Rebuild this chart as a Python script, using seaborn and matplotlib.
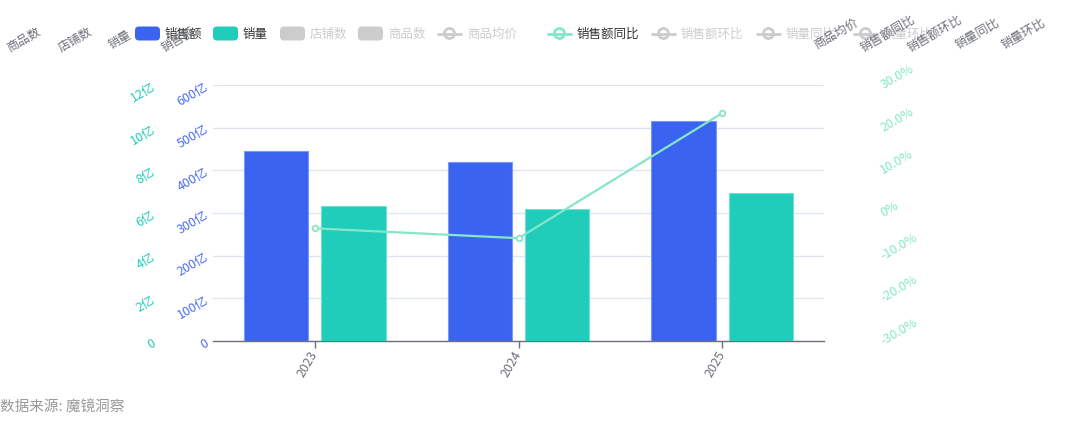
import pandas as pd
import matplotlib
matplotlib.use('Agg')
import matplotlib.pyplot as plt
from matplotlib.patches import FancyBboxPatch, Circle
import seaborn as sns

# data
years = ['2023', '2024', '2025']
sales = [444.6, 418.6, 516.3]      # 销售额 (亿)
volume = [6.35, 6.18, 6.92]        # 销量 (亿)
sales_yoy = [-3.6, -5.9, 23.4]     # 销售额同比 (%)

sales_ticks = [0, 100, 200, 300, 400, 500, 600]
volume_ticks = [0, 2, 4, 6, 8, 10, 12]
yoy_ticks = [-30, -20, -10, 0, 10, 20, 30]

legend_names = ['销售额', '销量', '店铺数', '商品数', '商品均价',
                '销售额同比', '销售额环比', '销量同比', '销量环比']
legend_kinds = ['bar', 'bar', 'bar', 'bar', 'line', 'line', 'line', 'line', 'line']
legend_on = [True, True, False, False, False, True, False, False, False]
left_axis_names = ['商品数', '店铺数', '销量', '销售额']
right_axis_names = ['商品均价', '销售额同比', '销售额环比', '销量同比', '销量环比']
source_text = '数据来源: 魔镜洞察'

BLUE = '#3A64F0'
TEAL = '#20CDBA'
LINE = '#85E6C9'
GREY = '#6E7079'
OFF = '#CCCCCC'

sns.set_theme(style='white')
plt.rcParams['font.family'] = ['Noto Sans CJK SC', 'DejaVu Sans']
plt.rcParams['axes.unicode_minus'] = False

W, H = 1080, 427
fig = plt.figure(figsize=(W / 100, H / 100), dpi=100)

# plot area in pixels: x 213..824, y 86..342
ax = fig.add_axes([213 / W, 1 - 342 / H, 611 / W, 256 / H])
ax2 = ax.twinx()
ax3 = ax.twinx()

hue_order = ['销售额', '销量']
df_sales = pd.DataFrame({'year': years, 'value': sales, 'series': '销售额'})
df_vol = pd.DataFrame({'year': years, 'value': volume, 'series': '销量'})

sns.barplot(data=df_sales, x='year', y='value', hue='series', hue_order=hue_order,
            palette=[BLUE, TEAL], width=0.76, gap=0.17, dodge=True, saturation=1,
            edgecolor='#7D97F5', linewidth=0.8, legend=False, ax=ax)
sns.barplot(data=df_vol, x='year', y='value', hue='series', hue_order=hue_order,
            palette=[BLUE, TEAL], width=0.76, gap=0.17, dodge=True, saturation=1,
            edgecolor='#6FE0D2', linewidth=0.8, legend=False, ax=ax2)
sns.pointplot(x=years, y=sales_yoy, ax=ax3, color=LINE, markers='o', linestyles='-',
              errorbar=None, markersize=4, markerfacecolor='white',
              markeredgewidth=1.3, linewidth=1.6)

for a in (ax, ax2, ax3):
    a.set_xlabel('')
    a.set_ylabel('')
    for s in a.spines.values():
        s.set_visible(False)
    a.set_xlim(-0.5, 2.5)

ax.spines['bottom'].set_visible(True)
ax.spines['bottom'].set_color(GREY)
ax.spines['bottom'].set_linewidth(1)

ax.set_ylim(0, 600)
ax.set_yticks(sales_ticks)
ax.set_yticklabels(['0' if v == 0 else f'{v}亿' for v in sales_ticks])
ax.grid(axis='y', color='#E0E6F1', linewidth=1)
ax.grid(axis='x', visible=False)
ax.set_axisbelow(True)
ax.tick_params(axis='y', length=0, pad=4, labelsize=9, labelcolor='#4A6CF2')
ax.tick_params(axis='x', length=5, width=1, color=GREY, labelcolor=GREY,
               labelsize=9, pad=2, bottom=True)

ax2.set_ylim(0, 12)
ax2.set_yticks(volume_ticks)
ax2.set_yticklabels(['0' if v == 0 else f'{v}亿' for v in volume_ticks])
ax2.yaxis.set_ticks_position('left')
ax2.yaxis.set_label_position('left')
ax2.spines['left'].set_position(('axes', -0.087))
ax2.tick_params(axis='y', length=0, pad=4, labelsize=9, labelcolor=TEAL)

ax3.set_ylim(-30, 30)
ax3.set_yticks(yoy_ticks)
ax3.set_yticklabels(['0%' if v == 0 else f'{v:.1f}%' for v in yoy_ticks])
ax3.spines['right'].set_position(('axes', 1.085))
ax3.tick_params(axis='y', length=0, pad=4, labelsize=9, labelcolor=LINE)

for lbl in ax.get_yticklabels() + ax2.get_yticklabels():
    lbl.set_rotation(30)
    lbl.set_rotation_mode('anchor')
    lbl.set_ha('right')
    lbl.set_va('center')
for lbl in ax3.get_yticklabels():
    lbl.set_rotation(30)
    lbl.set_rotation_mode('anchor')
    lbl.set_ha('left')
    lbl.set_va('center')
for lbl in ax.get_xticklabels():
    lbl.set_rotation(60)
    lbl.set_rotation_mode('anchor')
    lbl.set_ha('right')
    lbl.set_va('center')

# overlay in pixel coordinates for legend, axis names and source
ov = fig.add_axes([0, 0, 1, 1])
ov.set_xlim(0, W)
ov.set_ylim(H, 0)
ov.axis('off')

legend_x = [135, 213, 280, 358, 437, 547, 651, 756, 853]
series_color = {'销售额': BLUE, '销量': TEAL, '销售额同比': LINE}
for name, kind, on, x in zip(legend_names, legend_kinds, legend_on, legend_x):
    col = series_color.get(name, OFF) if on else OFF
    if kind == 'bar':
        ov.add_patch(FancyBboxPatch((x, 27.5), 25, 14, boxstyle='round,pad=0,rounding_size=4',
                                    facecolor=col, edgecolor='none'))
    else:
        ov.plot([x, x + 25], [34.5, 34.5], color=col, lw=2, solid_capstyle='butt')
        ov.add_patch(Circle((x + 12.5, 34.5), 5, facecolor='white', edgecolor=col, lw=2))
    ov.text(x + 30, 34.5, name, fontsize=9, color='#333333' if on else OFF,
            ha='left', va='center')

left_name_x = [24, 75, 120, 178]
for name, x in zip(left_axis_names, left_name_x):
    ov.text(x, 40, name, fontsize=8.8, color=GREY, rotation=30, ha='center', va='center')
right_name_x = [836, 888, 935, 977, 1023]
for name, x in zip(right_axis_names, right_name_x):
    ov.text(x, 34, name, fontsize=8.8, color=GREY, rotation=30, ha='center', va='center')

ov.text(0, 408, source_text, fontsize=10.5, color='#999999', ha='left', va='center')

fig.savefig('out.png', dpi=100)
